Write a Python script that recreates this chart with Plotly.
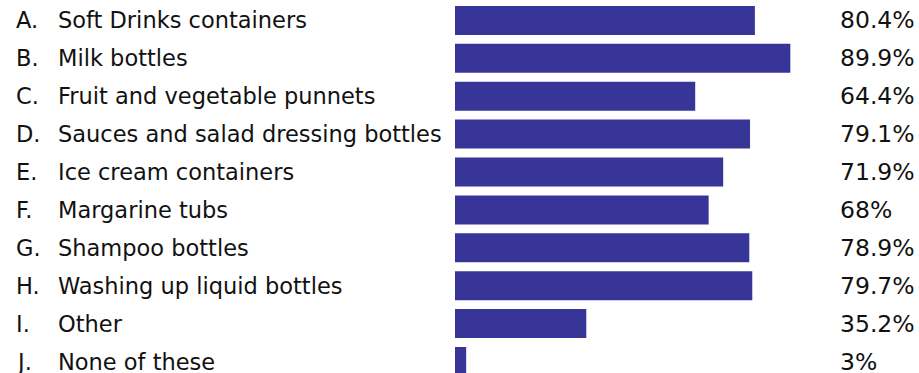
import plotly.graph_objects as go

letters = ["A.", "B.", "C.", "D.", "E.", "F.", "G.", "H.", "I.", "J."]
categories = ["Soft Drinks containers", "Milk bottles", "Fruit and vegetable punnets",
              "Sauces and salad dressing bottles", "Ice cream containers", "Margarine tubs",
              "Shampoo bottles", "Washing up liquid bottles", "Other", "None of these"]
values = [80.4, 89.9, 64.4, 79.1, 71.9, 68, 78.9, 79.7, 35.2, 3]
value_labels = ["80.4%", "89.9%", "64.4%", "79.1%", "71.9%", "68%", "78.9%", "79.7%", "35.2%", "3%"]

W, H = 919, 373
L = 455
PX_PER = 3.73
PW = 100 * PX_PER
R = W - L - PW

idx = list(range(len(categories)))
fig = go.Figure(go.Bar(
    x=values, y=idx, orientation="h",
    marker=dict(color="#373597", line=dict(width=0)),
    width=0.765, hoverinfo="skip",
))

font = dict(family="Verdana, DejaVu Sans, sans-serif", size=22.5, color="#111111")
vfont = dict(family="Verdana, DejaVu Sans, sans-serif", size=23.5, color="#111111")
ann = []
for i in idx:
    ann.append(dict(x=(14 - L) / PW, xref="paper", y=i, yref="y", text=letters[i],
                    showarrow=False, xanchor="left", yanchor="middle", font=font))
    ann.append(dict(x=(56 - L) / PW, xref="paper", y=i, yref="y", text=categories[i],
                    showarrow=False, xanchor="left", yanchor="middle", font=font))
    ann.append(dict(x=(838 - L) / PW, xref="paper", y=i, yref="y", text=value_labels[i],
                    showarrow=False, xanchor="left", yanchor="middle", font=vfont))

pitch = 37.9
c0 = 20.4
top = -c0 / pitch
bottom = 9 + (H - (c0 + 9 * pitch)) / pitch

fig.update_layout(
    width=W, height=H,
    margin=dict(l=L, r=R, t=0, b=0, pad=0),
    paper_bgcolor="white", plot_bgcolor="white",
    xaxis=dict(range=[0, 100], visible=False, fixedrange=True),
    yaxis=dict(range=[bottom, top], visible=False, fixedrange=True),
    annotations=ann, showlegend=False,
)
fig.write_html("out.html", config={"displayModeBar": False})
